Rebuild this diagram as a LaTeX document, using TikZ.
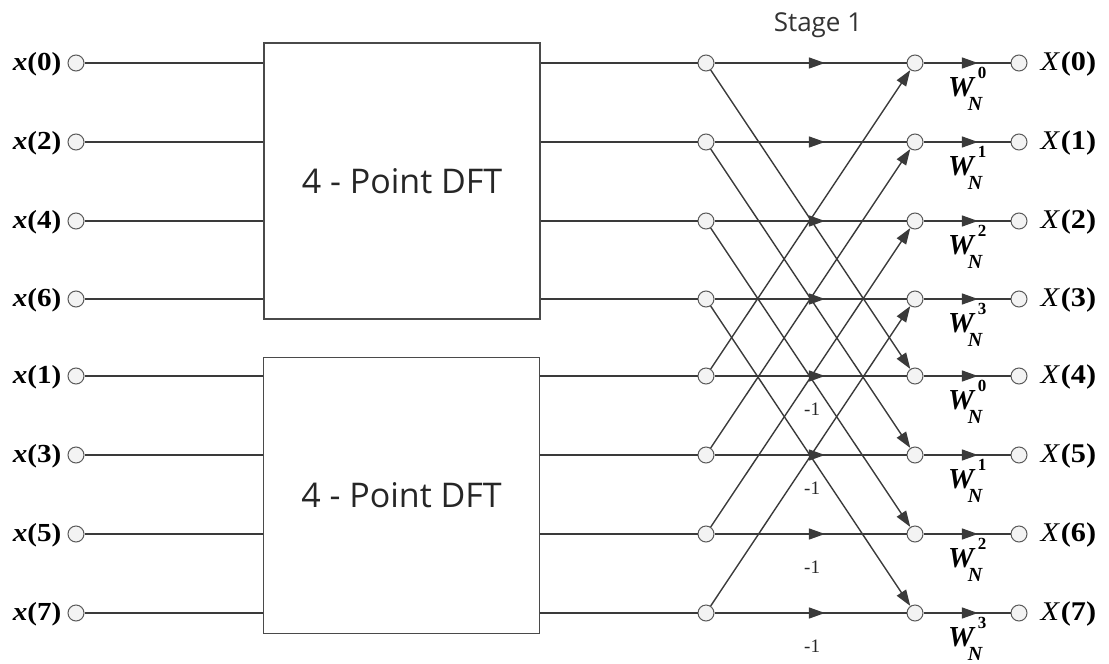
\documentclass[tikz,border=0pt]{standalone}
\usepackage{fontspec}
\setmainfont{Liberation Serif}
\newfontfamily\dftfont{Open Sans}
\usetikzlibrary{arrows.meta,decorations.markings}

\definecolor{wirecol}{HTML}{3A3A3A}
\definecolor{pinfill}{HTML}{F3F3F3}
\definecolor{pinline}{HTML}{5A5A5A}
\definecolor{boxline}{HTML}{4A4A4A}

% horizontally widened text, as the labels are set
\newcommand{\wide}[1]{\scalebox{1.12}[1]{#1}}
% twiddle factor W_N^k
\newcommand{\twf}[1]{{\fontsize{29}{29}\selectfont\bfseries\itshape W}\rlap{\kern4pt\raisebox{18pt}{\fontsize{17}{17}\selectfont\bfseries #1}}\kern-6pt\raisebox{-14pt}{\fontsize{20}{20}\selectfont\bfseries\itshape N}}

\tikzset{
  pin/.style={circle,draw=pinline,fill=pinfill,line width=1pt,minimum size=16pt,inner sep=0pt},
  wire/.style={color=wirecol,line width=1.4pt},
  headarrow/.style={-{Triangle[length=16pt,width=11pt]}},
  midarrow/.style={postaction={decorate},decoration={markings,mark=at position #1 with {\arrow{Triangle[length=16pt,width=11pt]}}}},
  dftbox/.style={draw=boxline,line width=1.1pt,minimum width=276pt,minimum height=276pt,inner sep=0pt,
    text=black!85,font=\dftfont\fontsize{34}{36}\selectfont},
  inlabel/.style={anchor=base east,inner sep=0pt,font=\fontsize{26}{28}\selectfont},
  outlabel/.style={anchor=base west,inner sep=0pt,font=\fontsize{27}{29}\selectfont},
  twlabel/.style={anchor=base west,inner sep=0pt},
  neglabel/.style={anchor=base west,inner sep=0pt,font=\fontsize{19}{21}\selectfont,text=black!85},
  stagelabel/.style={anchor=base,inner sep=0pt,text=black!80,font=\dftfont\fontsize{26}{28}\selectfont}
}

\begin{document}
\begin{tikzpicture}[x=1pt,y=-1pt]
\useasboundingbox (0,0) rectangle (1109,664);

% the two half-length transforms
\node[dftbox] (dftA) at (402,181) {4 - Point DFT};
\node[dftbox] (dftB) at (401.5,495.5) {4 - Point DFT};

\node[stagelabel] (stage) at (818,31) {Stage 1};

% input, butterfly and output terminals
\foreach \k/\y/\lab in {0/63/0,1/142/2,2/221/4,3/299/6,4/376/1,5/455/3,6/534/5,7/613/7}{
  \node[pin] (i\k) at (76,\y) {};
  \node[pin] (a\k) at (706,\y) {};
  \node[pin] (b\k) at (915,\y) {};
  \node[pin] (o\k) at (1019,\y) {};
  \node[inlabel] (xl\k) at ([xshift=-6pt,yshift=-7pt]i\k.west) {\wide{\bfseries{\itshape x}(\lab)}};
  \node[outlabel] (Xl\k) at ([xshift=13pt,yshift=-7pt]o\k.east) {\wide{{\itshape X}\kern1.5pt\bfseries(\k)}};
}

% inputs into the blocks and block outputs to the butterfly
\foreach \k in {0,1,2,3}{
  \draw[wire] (i\k) -- (i\k -| dftA.west);
  \draw[wire] (a\k -| dftA.east) -- (a\k);
}
\foreach \k in {4,5,6,7}{
  \draw[wire] (i\k) -- (i\k -| dftB.west);
  \draw[wire] (a\k -| dftB.east) -- (a\k);
}

% butterfly: straight branches, crossings and twiddle multipliers
\foreach \k in {0,...,7}{
  \pgfmathtruncatemacro\e{mod(\k,4)}
  \draw[wire,midarrow=0.575] (a\k) -- (b\k);
  \draw[wire,midarrow=0.625] (b\k) -- (o\k);
  \node[twlabel] (w\k) at ([xshift=33pt,yshift=-33pt]b\k.center) {\twf{\e}};
}
\foreach \k in {0,1,2,3}{
  \pgfmathtruncatemacro\m{\k+4}
  \draw[wire,headarrow] (a\k) -- (b\m);
  \draw[wire,headarrow] (a\m) -- (b\k);
}
\foreach \k in {4,5,6,7}{
  \node[neglabel] (n\k) at ([xshift=98pt,yshift=-39pt]a\k.center) {-1};
}
\end{tikzpicture}
\end{document}
